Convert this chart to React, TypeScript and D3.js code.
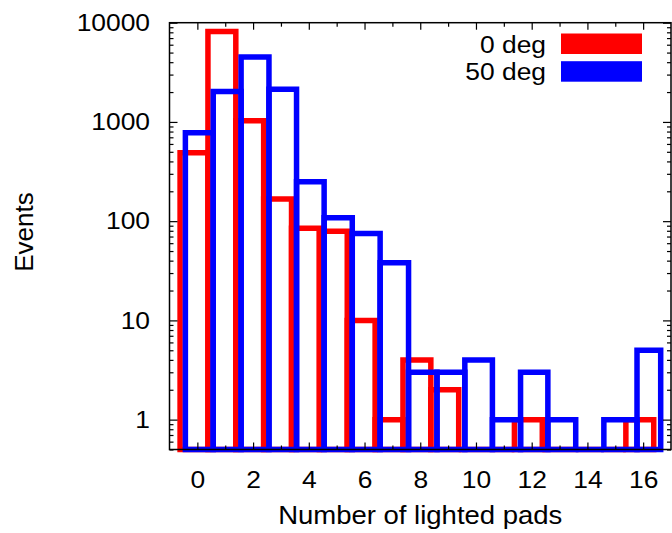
import React, { useEffect, useRef } from 'react';
import * as d3 from 'd3';

// number of lighted pads (bin centres)
const pads = [0, 1, 2, 3, 4, 5, 6, 7, 8, 9, 10, 11, 12, 13, 14, 15, 16];
// events per bin, 0 deg
const deg0 = [490, 8150, 1030, 167, 85, 79, 10, 1, 4, 2, 0, 0, 1, 0, 0, 0, 1];
// events per bin, 50 deg
const deg50 = [780, 2030, 4500, 2130, 250, 108, 75, 38, 3, 3, 4, 1, 3, 1, 0, 1, 5];
// bin edges of the 50 deg histogram (its last two boxes are not uniform)
const blueEdges = [-0.43, 0.57, 1.57, 2.57, 3.56, 4.55, 5.56, 6.56, 7.58, 8.6, 9.6, 10.59, 11.6, 12.58, 13.58, 14.59, 15.78, 16.63];
const seriesNames = ['0 deg', '50 deg'];
const xTicks = [0, 2, 4, 6, 8, 10, 12, 14, 16];
const yTicks = [1, 10, 100, 1000, 10000];

const FONT = "'Liberation Sans', Arial, Helvetica, sans-serif";

const App = () => {
  const ref = useRef<SVGSVGElement>(null);

  useEffect(() => {
    const svg = d3.select(ref.current);
    svg.selectAll('*').remove();

    const x = d3.scaleLinear().domain([-1, 17]).range([169.5, 671]);
    const y = d3.scaleLog().domain([0.5, 10000]).range([449.5, 22.7]);
    const yb = y(0.5);

    const box = (x0: number, x1: number, v: number) => {
      const yt = v > 0 ? y(v) : yb;
      return `M${x(x0)},${yb}V${yt}H${x(x1)}V${yb}Z`;
    };

    // 0 deg boxes
    svg.append('g')
      .selectAll('path')
      .data(pads)
      .enter()
      .append('path')
      .attr('d', (p, i) => box(p - 0.62, p + 0.38, deg0[i]))
      .attr('fill', 'none')
      .attr('stroke', '#ff0000')
      .attr('stroke-width', 5.5)
      .attr('stroke-linejoin', 'miter');

    // 50 deg boxes
    svg.append('g')
      .selectAll('path')
      .data(pads)
      .enter()
      .append('path')
      .attr('d', (p, i) => box(blueEdges[i], blueEdges[i + 1], deg50[i]))
      .attr('fill', 'none')
      .attr('stroke', '#0000ff')
      .attr('stroke-width', 5.5)
      .attr('stroke-linejoin', 'miter');

    const oddTicks = pads.filter(p => p % 2 === 1);
    const minorY = y.ticks().filter(v => !yTicks.includes(v));

    const styleAxis = (g: any) => {
      g.select('.domain').remove();
      g.selectAll('line').attr('stroke', '#000').attr('stroke-width', 1.2);
      g.selectAll('text')
        .attr('fill', '#000')
        .attr('font-family', FONT)
        .attr('font-size', 24)
        .attr('transform', 'scale(1.1,1)');
    };

    // bottom
    svg.append('g').attr('transform', `translate(0,${yb})`)
      .call(d3.axisBottom(x).tickValues(xTicks).tickSize(-7).tickPadding(21).tickFormat(d3.format('d')))
      .call(styleAxis);
    svg.append('g').attr('transform', `translate(0,${yb})`)
      .call(d3.axisBottom(x).tickValues(oddTicks).tickSize(-4).tickFormat(() => ''))
      .call(styleAxis);
    // top
    svg.append('g').attr('transform', `translate(0,${y(10000)})`)
      .call(d3.axisTop(x).tickValues(xTicks).tickSize(-7).tickFormat(() => ''))
      .call(styleAxis);
    svg.append('g').attr('transform', `translate(0,${y(10000)})`)
      .call(d3.axisTop(x).tickValues(oddTicks).tickSize(-4).tickFormat(() => ''))
      .call(styleAxis);
    // left
    svg.append('g').attr('transform', `translate(${x(-1)},0)`)
      .call(d3.axisLeft(y).tickValues(yTicks).tickSize(-8).tickPadding(17.7).tickFormat(d3.format('d')))
      .call(styleAxis);
    svg.append('g').attr('transform', `translate(${x(-1)},0)`)
      .call(d3.axisLeft(y).tickValues(minorY).tickSize(-4).tickFormat(() => ''))
      .call(styleAxis);
    // right
    svg.append('g').attr('transform', `translate(${x(17)},0)`)
      .call(d3.axisRight(y).tickValues(yTicks).tickSize(-8).tickFormat(() => ''))
      .call(styleAxis);
    svg.append('g').attr('transform', `translate(${x(17)},0)`)
      .call(d3.axisRight(y).tickValues(minorY).tickSize(-4).tickFormat(() => ''))
      .call(styleAxis);

    // frame
    svg.append('rect')
      .attr('x', x(-1))
      .attr('y', y(10000))
      .attr('width', x(17) - x(-1))
      .attr('height', yb - y(10000))
      .attr('fill', 'none')
      .attr('stroke', '#000')
      .attr('stroke-width', 1.5);

    // axis titles
    svg.append('text')
      .attr('transform', `translate(${(x(-1) + x(17)) / 2},524) scale(1.1,1)`)
      .attr('text-anchor', 'middle')
      .attr('font-family', FONT)
      .attr('font-size', 25)
      .text('Number of lighted pads');
    svg.append('text')
      .attr('transform', 'translate(33,232) rotate(-90)')
      .attr('text-anchor', 'middle')
      .attr('font-family', FONT)
      .attr('font-size', 26)
      .text('Events');

    // legend
    const colors = ['#ff0000', '#0000ff'];
    const legend = svg.append('g')
      .selectAll('g')
      .data(seriesNames)
      .enter()
      .append('g')
      .attr('transform', (d, i) => `translate(0,${i * 27.7})`);
    legend.append('text')
      .attr('transform', 'translate(546,52.5) scale(1.1,1)')
      .attr('text-anchor', 'end')
      .attr('font-family', FONT)
      .attr('font-size', 24)
      .text(d => d);
    legend.append('rect')
      .attr('x', 561)
      .attr('y', 33.5)
      .attr('width', 81)
      .attr('height', 20.5)
      .attr('fill', (d, i) => colors[i]);

    return () => {
      svg.selectAll('*').remove();
    };
  }, []);

  return (
    <svg
      ref={ref}
      width={672}
      height={533}
      style={{ position: 'absolute', left: 0, top: 0, background: '#fff' }}
    />
  );
};

export default App;
